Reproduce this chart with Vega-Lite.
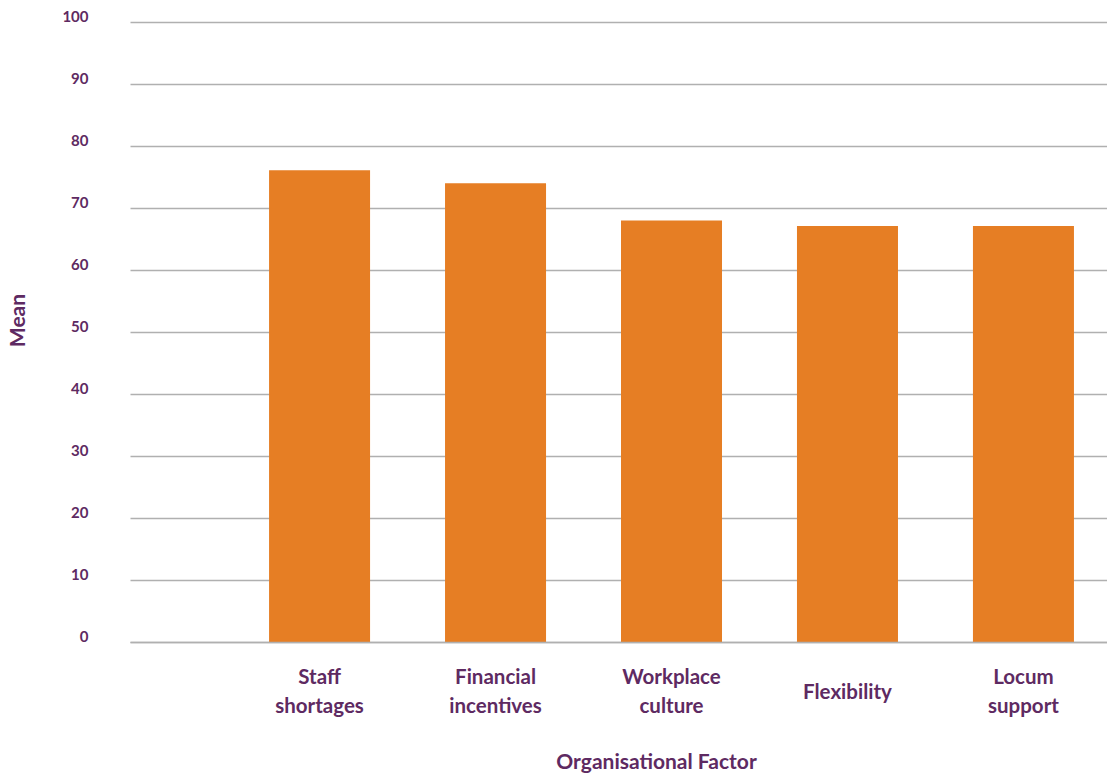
{
  "$schema": "https://vega.github.io/schema/vega-lite/v6.json",
  "width": 977,
  "height": 620,
  "autosize": "none",
  "padding": {"left": 130, "top": 22, "right": 0, "bottom": 131},
  "background": "white",
  "data": {
    "values": [
      {"factor": "Staff shortages", "mean": 76.1},
      {"factor": "Financial incentives", "mean": 74},
      {"factor": "Workplace culture", "mean": 68},
      {"factor": "Flexibility", "mean": 67.1},
      {"factor": "Locum support", "mean": 67.1}
    ]
  },
  "config": {
    "view": {"stroke": null},
    "font": "Lato"
  },
  "mark": {"type": "bar", "color": "#E67E24"},
  "encoding": {
    "x": {
      "field": "factor",
      "type": "nominal",
      "sort": null,
      "scale": {"paddingInner": 0.426, "paddingOuter": 0.489, "align": 0.808},
      "axis": {
        "title": "Organisational Factor",
        "labelAngle": 0,
        "labelExpr": "datum.value == 'Staff shortages' ? ['Staff', 'shortages'] : datum.value == 'Financial incentives' ? ['Financial', 'incentives'] : datum.value == 'Workplace culture' ? ['Workplace', 'culture'] : datum.value == 'Locum support' ? ['Locum', 'support'] : datum.value",
        "labelFont": "Lato",
        "labelFontWeight": "bold",
        "labelFontSize": 20.5,
        "labelColor": "#5E2A62",
        "labelBaseline": "middle",
        "labelLineHeight": 29,
        "labelPadding": {"condition": {"test": "datum.value == 'Flexibility'", "value": 50}, "value": 35},
        "labelLimit": 300,
        "ticks": false,
        "domain": true,
        "domainColor": "#B0B0B0",
        "domainWidth": 1.5,
        "grid": false,
        "zindex": 1,
        "titleFont": "Lato",
        "titleFontWeight": "bold",
        "titleFontSize": 21,
        "titleColor": "#5E2A62",
        "titleX": 526,
        "titleY": 120,
        "titleAlign": "center",
        "titleBaseline": "middle"
      }
    },
    "y": {
      "field": "mean",
      "type": "quantitative",
      "scale": {"domain": [0, 100], "nice": false},
      "axis": {
        "title": "Mean",
        "values": [0, 10, 20, 30, 40, 50, 60, 70, 80, 90, 100],
        "labelFont": "Lato",
        "labelFontWeight": "bold",
        "labelFontSize": 15,
        "labelColor": "#5E2A62",
        "labelPadding": 42,
        "labelOffset": -6,
        "ticks": false,
        "domain": false,
        "grid": true,
        "gridColor": "#B0B0B0",
        "gridWidth": 1.5,
        "titleFont": "Lato",
        "titleFontWeight": "bold",
        "titleFontSize": 21,
        "titleColor": "#5E2A62",
        "titleAngle": -90,
        "titleX": -112,
        "titleY": 298,
        "titleAlign": "center",
        "titleBaseline": "middle"
      }
    }
  }
}
